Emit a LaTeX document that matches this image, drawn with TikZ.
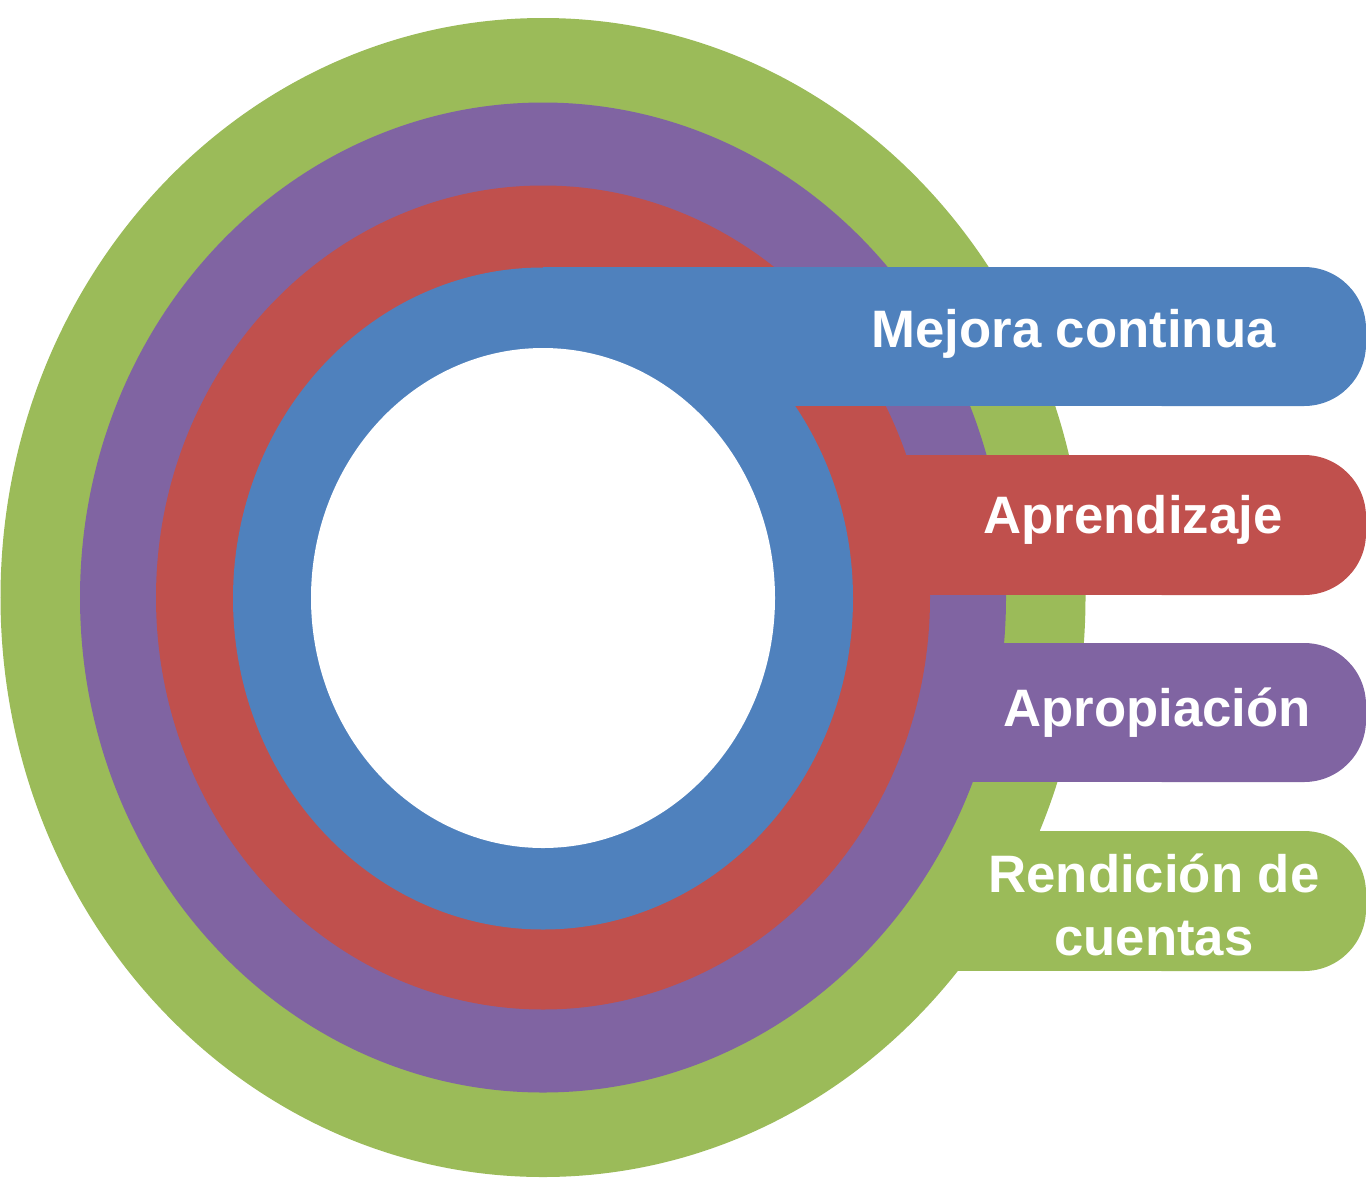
\documentclass[tikz,border=0pt]{standalone}
\usepackage{fontspec}
\setmainfont{Liberation Sans}
\definecolor{ringgreen}{HTML}{9BBB59}
\definecolor{ringpurple}{HTML}{8064A2}
\definecolor{ringred}{HTML}{C0504D}
\definecolor{ringblue}{HTML}{4F81BD}
\begin{document}
\begin{tikzpicture}[x=0.02cm, y=0.02cm]
  \tikzstyle{every node}+=[inner sep=0pt, text=white, font=\fontsize{30}{35.8}\selectfont\bfseries]
  \useasboundingbox (0,0) rectangle (1366,-1177);
  % green ring and bar
  \fill [ringgreen] (543,-597.5) ellipse (542.5 and 579.5);
  \fill [ringgreen] (543,-831) rectangle (1250,-971);
  \fill [ringgreen, rounded corners=1.24cm] (1100,-831) rectangle (1366,-971);
  % purple ring and bar
  \fill [ringpurple] (543,-597.5) ellipse (463 and 495);
  \fill [ringpurple] (543,-643) rectangle (1250,-782);
  \fill [ringpurple, rounded corners=1.24cm] (1100,-643) rectangle (1366,-782);
  % red ring and bar
  \fill [ringred] (543,-597.5) ellipse (387 and 412);
  \fill [ringred] (543,-455) rectangle (1250,-595);
  \fill [ringred, rounded corners=1.24cm] (1100,-455) rectangle (1366,-595);
  % blue ring and bar
  \fill [ringblue] (543,-598.5) ellipse (310 and 331);
  \fill [ringblue] (543,-267) rectangle (1250,-406);
  \fill [ringblue, rounded corners=1.24cm] (1100,-267) rectangle (1366,-406);
  % hole
  \fill [white] (543,-598) ellipse (232 and 250);
  % labels
  \draw (1073.5,-347) node [anchor=base] (mejora) {Mejora continua};
  \draw (1133,-533) node [anchor=base] (aprendizaje) {Aprendizaje};
  \draw (1157,-726) node [anchor=base] (apropiacion) {Apropiación};
  \draw (1154,-955) node [anchor=base, align=center] (rendicion) {Rendición de\\cuentas};
\end{tikzpicture}
\end{document}
